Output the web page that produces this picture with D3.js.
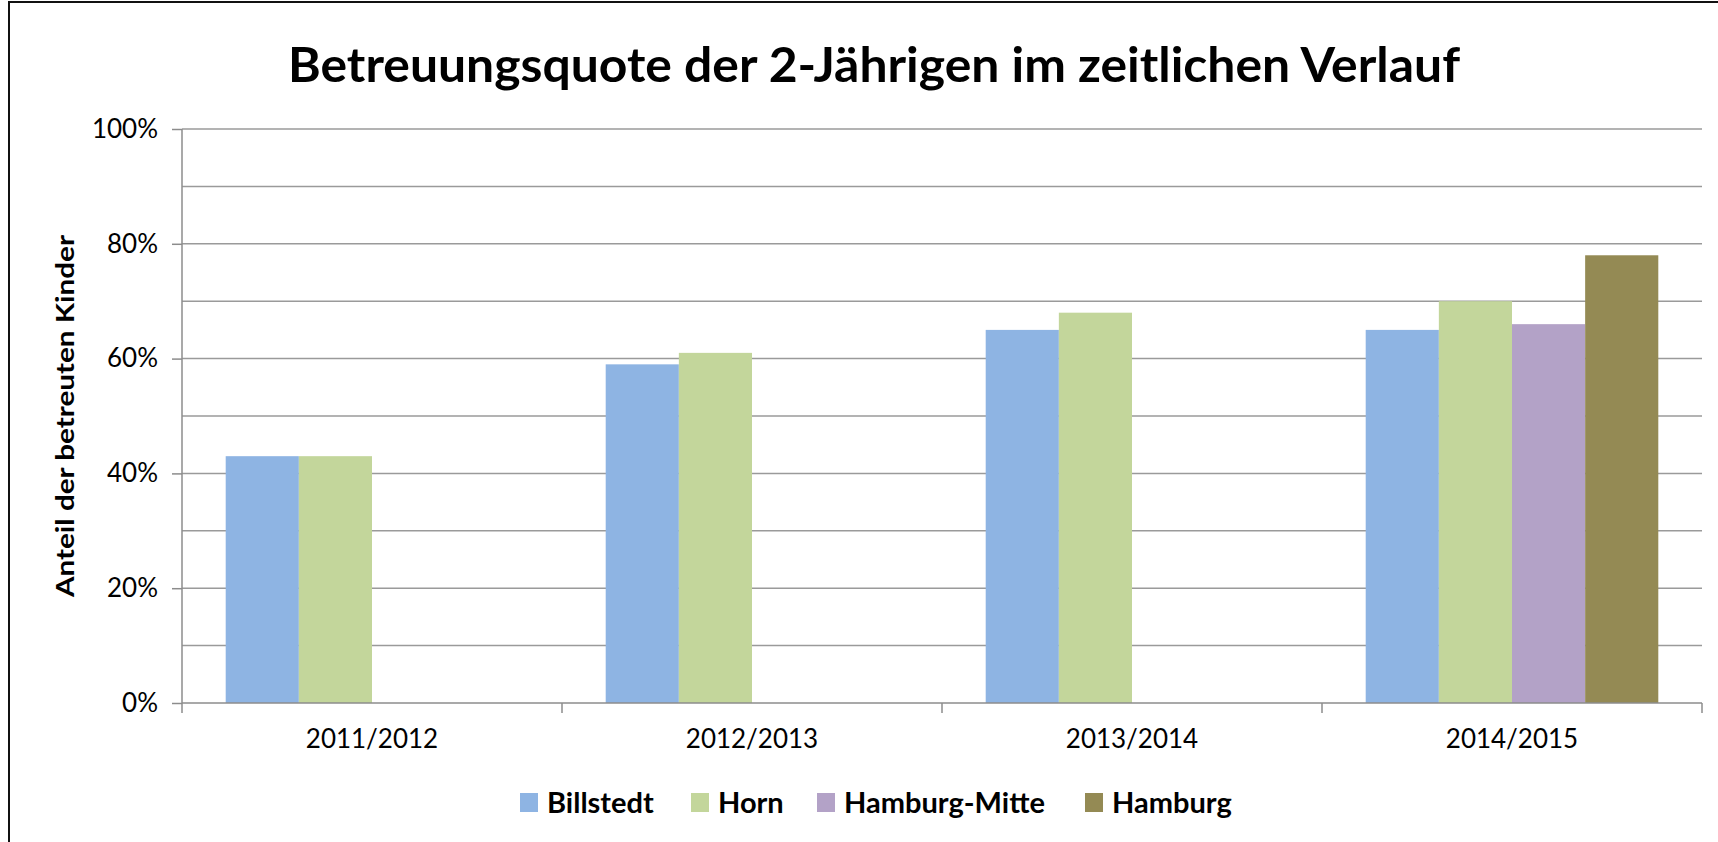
<!DOCTYPE html>
<html>
<head>
<meta charset="utf-8">
<script src="https://cdn.jsdelivr.net/npm/d3@7"></script>
<style>
  body { margin: 0; background: #fff; }
  svg { display: block; font-family: Lato, "Open Sans", sans-serif; }
</style>
</head>
<body>
<div id="chart"></div>
<script>
// data
var years = ["2011/2012", "2012/2013", "2013/2014", "2014/2015"];
var seriesNames = ["Billstedt", "Horn", "Hamburg-Mitte", "Hamburg"];
var billstedt = [43, 59, 65, 65];
var horn = [43, 61, 68, 70];
var hamburgMitte = [null, null, null, 66];
var hamburg = [null, null, null, 78];
var yTicks = [0, 20, 40, 60, 80, 100];
var colors = ["#8EB4E3", "#C3D69B", "#B3A2C7", "#948A54"];

var values = [billstedt, horn, hamburgMitte, hamburg];

var W = 1718, H = 842;
var margin = { top: 129, right: 16, bottom: 139, left: 182 };
var width = W - margin.left - margin.right;
var height = H - margin.top - margin.bottom;

var svg = d3.select("#chart").append("svg")
    .attr("width", W)
    .attr("height", H);

// outer frame
svg.append("rect")
    .attr("x", 9).attr("y", 2)
    .attr("width", W + 20).attr("height", H + 20)
    .attr("fill", "none")
    .attr("stroke", "#111")
    .attr("stroke-width", 2);

// title
svg.append("text")
    .attr("x", 874).attr("y", 82)
    .attr("text-anchor", "middle")
    .attr("font-size", 47)
    .attr("font-weight", "bold")
    .attr("textLength", 1172)
    .attr("lengthAdjust", "spacingAndGlyphs")
    .text("Betreuungsquote der 2-Jährigen im zeitlichen Verlauf");

var g = svg.append("g")
    .attr("transform", "translate(" + margin.left + "," + margin.top + ")");

var x = d3.scaleBand().domain(years).range([0, width]);
var bw = x.bandwidth();
var gap = bw * 0.23;
var xs = d3.scaleBand().domain(seriesNames).range([gap / 2, bw - gap / 2]);
var y = d3.scaleLinear().domain([0, 100]).range([height, 0]);

// gridlines every 10%
g.append("g")
    .selectAll("line")
    .data(d3.range(10, 101, 10))
    .join("line")
    .attr("x1", 0).attr("x2", width)
    .attr("y1", d => y(d)).attr("y2", d => y(d))
    .attr("stroke", "#9a9a9a")
    .attr("stroke-width", 1.5);

// bars
seriesNames.forEach(function(name, i) {
    g.append("g")
        .attr("fill", colors[i])
        .selectAll("rect")
        .data(years.map((yr, j) => ({ yr: yr, v: values[i][j] })).filter(d => d.v != null))
        .join("rect")
        .attr("x", d => x(d.yr) + xs(name))
        .attr("width", xs.bandwidth())
        .attr("y", d => y(d.v))
        .attr("height", d => height - y(d.v));
});

// y axis
var yAxis = g.append("g")
    .call(d3.axisLeft(y).tickValues(yTicks).tickFormat(d => d + "%").tickSize(10).tickPadding(14));
yAxis.select(".domain").attr("stroke", "#8c8c8c").attr("stroke-width", 1.5).attr("d", "M0,0V" + height);
yAxis.selectAll(".tick line").attr("stroke", "#8c8c8c").attr("stroke-width", 1.5);
yAxis.selectAll(".tick text").attr("font-size", 26).attr("fill", "#000")
    .attr("font-family", "Lato, 'Open Sans', sans-serif");

// x axis
var xAxis = g.append("g")
    .attr("transform", "translate(0," + height + ")")
    .call(d3.axisBottom(x).tickSize(0).tickPadding(27));
xAxis.select(".domain").attr("stroke", "#8c8c8c").attr("stroke-width", 1.5).attr("d", "M0,0H" + width);
xAxis.selectAll(".tick text").attr("font-size", 26).attr("fill", "#000")
    .attr("font-family", "Lato, 'Open Sans', sans-serif");
// category boundary ticks
g.append("g")
    .selectAll("line")
    .data(years.map(d => x(d)).concat([width]))
    .join("line")
    .attr("x1", d => d).attr("x2", d => d)
    .attr("y1", height).attr("y2", height + 10)
    .attr("stroke", "#8c8c8c")
    .attr("stroke-width", 1.5);

// y axis title
svg.append("text")
    .attr("transform", "translate(74," + (margin.top + height / 2) + ") rotate(-90)")
    .attr("text-anchor", "middle")
    .attr("font-size", 25)
    .attr("font-weight", "bold")
    .attr("textLength", 362)
    .attr("lengthAdjust", "spacingAndGlyphs")
    .text("Anteil der betreuten Kinder");

// legend
var legendX = [520, 691, 817, 1085];
var legend = svg.append("g").selectAll("g")
    .data(seriesNames)
    .join("g")
    .attr("transform", (d, i) => "translate(" + legendX[i] + ",802)");
legend.append("rect")
    .attr("x", 0).attr("y", -9)
    .attr("width", 18).attr("height", 19)
    .attr("fill", (d, i) => colors[i]);
legend.append("text")
    .attr("x", 27).attr("y", 11)
    .attr("font-size", 29)
    .attr("font-weight", "bold")
    .text(d => d);
</script>
</body>
</html>
